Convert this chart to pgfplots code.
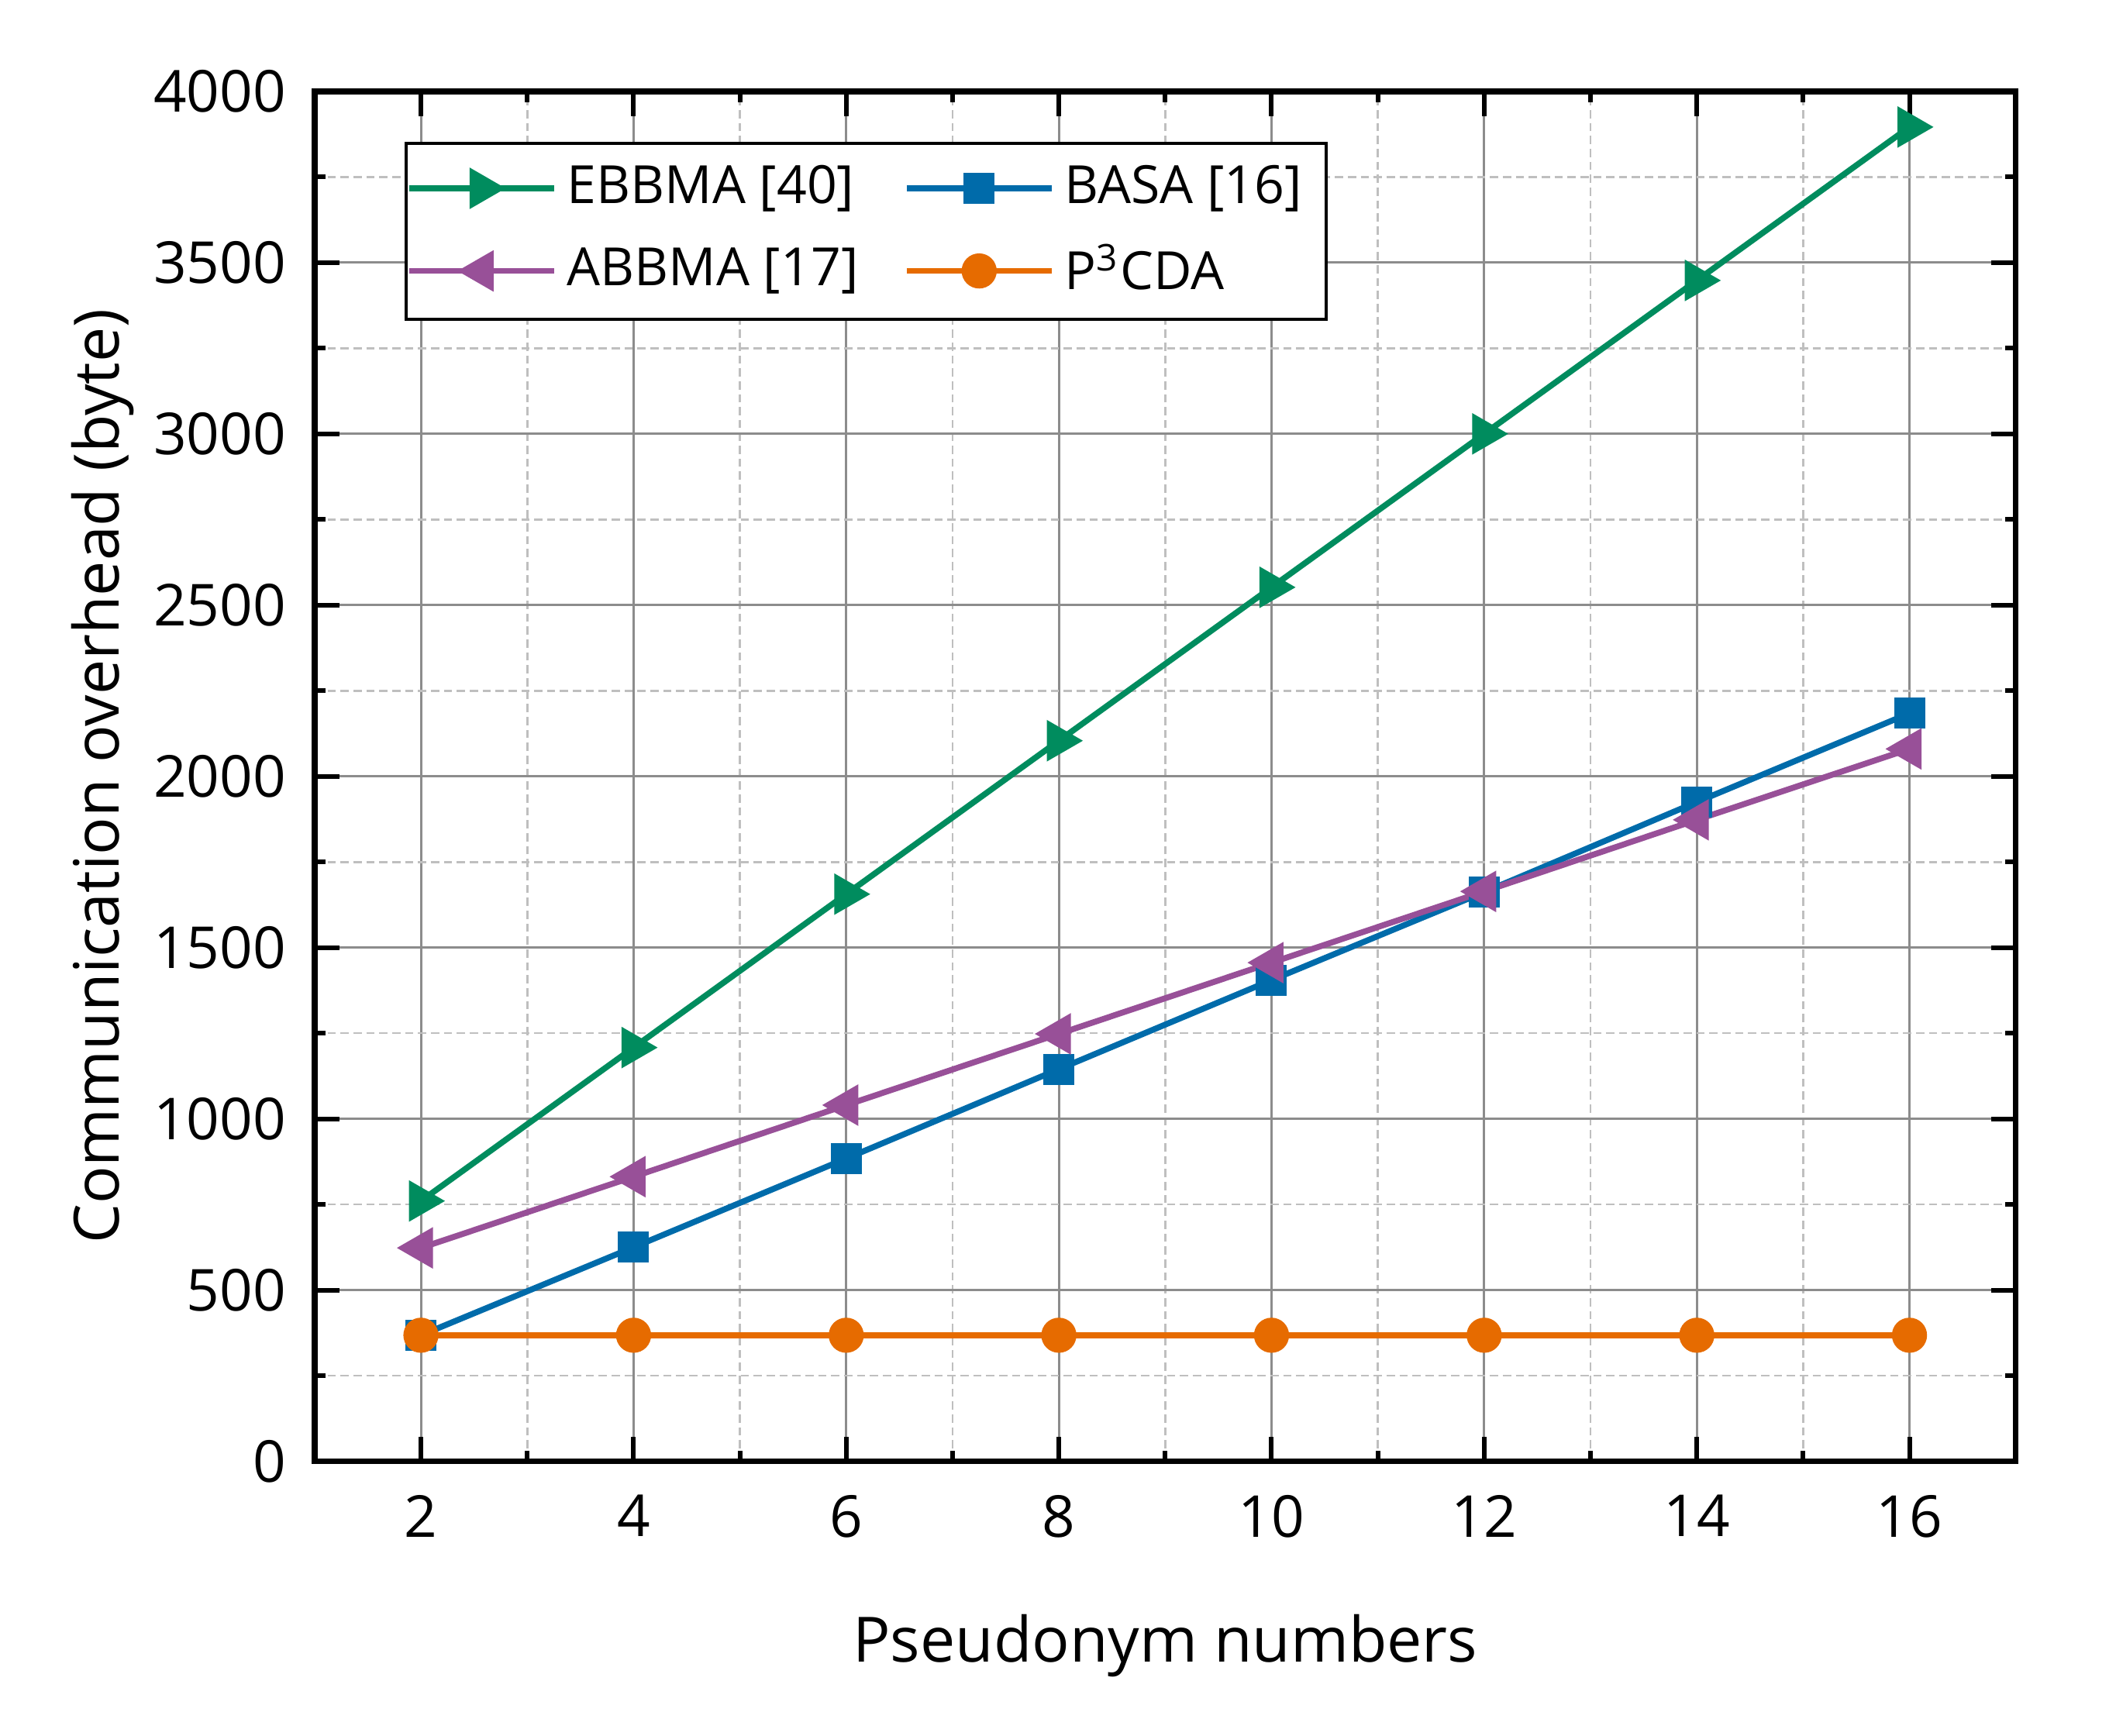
\documentclass[border=0pt]{standalone}
\usepackage{fontspec}
\setmainfont{Open Sans}
\usepackage{pgfplots}
\pgfplotsset{compat=1.18}

\definecolor{cgreen}{RGB}{0,140,94}
\definecolor{cblue}{RGB}{0,107,170}
\definecolor{cpurple}{RGB}{152,80,152}
\definecolor{corange}{RGB}{230,107,0}

\begin{document}
\begin{tikzpicture}
\begin{axis}[
  scale only axis,
  width=329.3pt, height=265.2pt,
  xmin=1, xmax=17, ymin=0, ymax=4000,
  xtick={2,4,...,16}, ytick={0,500,...,4000},
  minor x tick num=1, minor y tick num=1,
  tick align=inside,
  major tick length=4.8pt, minor tick length=2.1pt,
  every tick/.style={black, line width=0.9pt},
  axis line style={line width=1.1pt},
  grid=both,
  major grid style={color=black!45, line width=0.45pt},
  minor grid style={color=black!25, dash pattern=on 1.6pt off 0.9pt, line width=0.4pt},
  /pgf/number format/assume math mode=true,
  /pgf/number format/1000 sep={},
  ticklabel style={font=\fontsize{11.2}{13}\selectfont},
  xticklabel style={yshift=-3pt},
  yticklabel style={xshift=-2pt},
  xlabel={Pseudonym numbers},
  ylabel={Communication overhead (byte)},
  every axis x label/.style={at={(axis description cs:0.5,-0.1346)}, anchor=center,
    font=\fontsize{12.1}{14}\selectfont},
  every axis y label/.style={at={(axis description cs:-0.1245,0.5)}, rotate=90, anchor=center,
    font=\fontsize{12.1}{14}\selectfont},
  legend columns=2,
  legend cell align=left,
  legend style={
    at={(axis description cs:0.053,0.963)}, anchor=north west,
    draw=black, line width=0.6pt, fill=white,
    font=\fontsize{10.2}{12}\selectfont,
    inner xsep=0pt, inner ysep=2.2pt, row sep=2.4pt,
    /tikz/every even column/.append style={column sep=6.8pt},
  },
  legend image code/.code={%
    \draw[mark repeat=2, mark phase=2] plot coordinates {(0pt,0pt) (14pt,0pt) (28pt,0pt)};},
]
\coordinate (bl) at (rel axis cs:0,0);
\coordinate (tr) at (rel axis cs:1,1);

% EBBMA [40]
\addplot[color=cgreen, line width=1.15pt, mark=triangle*, mark size=4.35pt,
  mark options={solid, rotate=-90, fill=cgreen, line width=0.3pt}]
  coordinates {(2,760) (4,1208) (6,1656) (8,2104) (10,2552) (12,3000) (14,3448) (16,3896)};
\addlegendentry{EBBMA [40]}

% BASA [16]
\addplot[color=cblue, line width=1.15pt, mark=square*, mark size=2.85pt,
  mark options={solid, fill=cblue, line width=0.3pt}]
  coordinates {(2,368) (4,625) (6,884) (8,1145) (10,1405) (12,1662) (14,1925) (16,2184)};
\addlegendentry{BASA [16]\hspace*{2.6pt}}

% ABBMA [17]
\addplot[color=cpurple, line width=1.15pt, mark=triangle*, mark size=4.35pt,
  mark options={solid, rotate=90, fill=cpurple, line width=0.3pt}]
  coordinates {(2,623) (4,831) (6,1040) (8,1248) (10,1456) (12,1664) (14,1873) (16,2080)};
\addlegendentry{ABBMA [17]}

% P3CDA
\addplot[color=corange, line width=1.15pt, mark=*, mark size=3.25pt,
  mark options={solid, fill=corange, line width=0.3pt}]
  coordinates {(2,368) (4,368) (6,368) (8,368) (10,368) (12,368) (14,368) (16,368)};
\addlegendentry{P\textsuperscript{3}CDA}
\end{axis}
\pgfresetboundingbox
\path ([shift={(-60.9pt,-53.1pt)}]bl) rectangle ([shift={(19.4pt,17.7pt)}]tr);
\end{tikzpicture}
\end{document}
